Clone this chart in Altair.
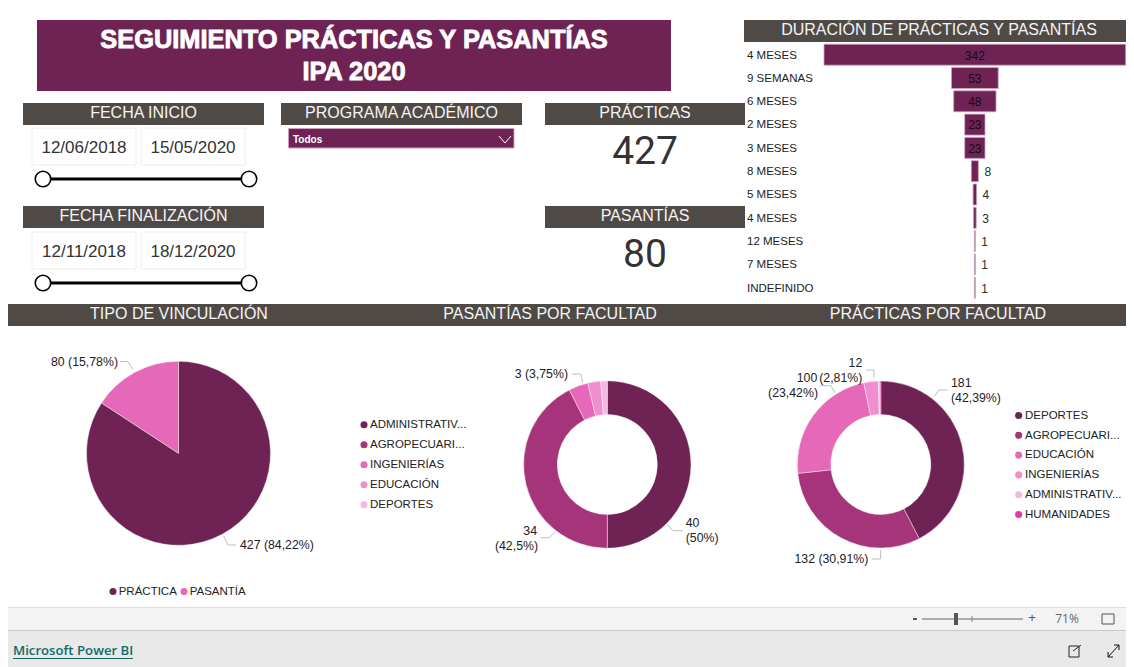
import altair as alt
import pandas as pd

# ---------- data ----------
dur_keys = ["a", "b", "c", "d", "e", "f", "g", "h", "i", "j", "k"]
dur_labels = ["4 MESES", "9 SEMANAS", "6 MESES", "2 MESES", "3 MESES", "8 MESES",
              "5 MESES", "4 MESES", "12 MESES", "7 MESES", "INDEFINIDO"]
dur_values = [342, 53, 48, 23, 23, 8, 4, 3, 1, 1, 1]

tipo_names = ["PRÁCTICA", "PASANTÍA"]
tipo_values = [427, 80]

pas_names = ["ADMINISTRATIV...", "AGROPECUARI...", "INGENIERÍAS", "EDUCACIÓN", "DEPORTES"]
pas_values = [40, 34, 3, 2, 1]

pra_names = ["DEPORTES", "AGROPECUARI...", "EDUCACIÓN", "INGENIERÍAS", "ADMINISTRATIV...", "HUMANIDADES"]
pra_values = [181, 132, 100, 12, 1, 1]

palette = ["#6F2354", "#A5347B", "#E668B8", "#F08FCF", "#F4B8E0", "#E63BA7"]
tipo_colors = ["#6F2354", "#E668B8"]

GRAY = "#504A47"
PURPLE = "#6F2354"
SANS = "Liberation Sans"
base = pd.DataFrame({"a": [0]})
layers = []


def X(v):
    return alt.value(v - 8)


def Y(v):
    return alt.value(v - 8)


def rect(x0, y0, x1, y1, fill, stroke=None, sw=1):
    kw = {"fill": fill}
    if stroke:
        kw.update(stroke=stroke, strokeWidth=sw)
    layers.append(alt.Chart(base).mark_rect(**kw).encode(x=X(x0), x2=X(x1), y=Y(y0), y2=Y(y1)))


def txt(s, x, y, size=12, color="#222222", align="center", font=SANS, weight="normal", stroke=None, sw=0):
    kw = dict(text=s, fontSize=size, color=color, align=align, baseline="middle", font=font, fontWeight=weight)
    if stroke:
        kw.update(stroke=stroke, strokeWidth=sw)
    layers.append(alt.Chart(base).mark_text(**kw).encode(x=X(x), y=Y(y)))


def seg(x0, y0, x1, y1, color="#BDBDBD", sw=1):
    layers.append(alt.Chart(base).mark_rule(color=color, strokeWidth=sw).encode(
        x=X(x0), x2=X(x1), y=Y(y0), y2=Y(y1)))


def leader(pts):
    for (a, b), (c, d) in zip(pts[:-1], pts[1:]):
        seg(a, b, c, d)


def dot(x, y, color, size=50, stroke=None, sw=0):
    kw = dict(filled=True, fill=color, opacity=1, size=size, shape="circle")
    if stroke:
        kw.update(stroke=stroke, strokeWidth=sw)
    layers.append(alt.Chart(base).mark_point(**kw).encode(x=X(x), y=Y(y)))


def pie(names, values, colors, cx, cy, R, r=0):
    df = pd.DataFrame({"name": names, "value": values, "idx": range(len(names))})
    kw = dict(outerRadius=R, stroke="#ffffff", strokeWidth=0.4)
    if r:
        kw["innerRadius"] = r
    layers.append(alt.Chart(df).mark_arc(**kw).encode(
        theta=alt.Theta("value:Q", stack=True),
        color=alt.Color("name:N", legend=None,
                        scale=alt.Scale(domain=names, range=colors)),
        order=alt.Order("idx:Q"),
        x=X(cx), y=Y(cy)))


# ---------- footer ----------
rect(0, 607, 1134, 630, "#F3F3F3")
seg(0, 607.5, 1134, 607.5, "#DDDDDD")
rect(0, 630, 1134, 667, "#E9E9E9")
seg(0, 630.5, 1134, 630.5, "#C8C8C8")
txt("Microsoft Power BI", 13, 651, 13.2, "#0F6B6B", "left", "Open Sans", 600)
seg(13, 658.5, 133, 658.5, "#0F6B6B")
rect(913, 618, 917, 620, "#555555")
seg(922, 619, 1023, 619, "#666666")
seg(972, 616, 972, 622, "#888888")
rect(954, 613, 958, 625, "#555555")
txt("+", 1032, 618, 13, "#555555")
txt("71%", 1067, 619, 12, "#666666", font="Open Sans")
rect(1102, 614, 1114, 624, "#F3F3F3", "#555555", 1)
rect(1069, 646, 1079, 657, "#E9E9E9", "#222222", 1)
seg(1073, 651, 1081, 645, "#222222")
seg(1108, 657, 1119, 645, "#111111")
seg(1108, 652, 1108, 657, "#111111")
seg(1108, 657, 1113, 657, "#111111")
seg(1114, 645, 1119, 645, "#111111")
seg(1119, 645, 1119, 650, "#111111")

# ---------- headers ----------
rect(37, 20, 671, 91, PURPLE)
txt("SEGUIMIENTO PRÁCTICAS Y PASANTÍAS", 354, 40.3, 25.4, "#FFFFFF", weight="bold", stroke="#FFFFFF", sw=0.9)
txt("IPA 2020", 354, 72.3, 25.4, "#FFFFFF", weight="bold", stroke="#FFFFFF", sw=0.9)

for x0, x1, y0, s in [
    (23, 264, 103, "FECHA INICIO"),
    (281, 522, 103, "PROGRAMA ACADÉMICO"),
    (545, 745, 103, "PRÁCTICAS"),
    (23, 264, 206, "FECHA FINALIZACIÓN"),
    (545, 745, 206, "PASANTÍAS"),
    (744, 1132, 20, "DURACIÓN DE PRÁCTICAS Y PASANTÍAS"),
]:
    rect(x0, y0, x1, y0 + 22, GRAY)
    cx = 645 if x1 == 745 else 939 if x1 == 1132 else (x0 + x1) / 2
    txt(s, cx, y0 + 10, 16, "#F4F4F4")

rect(1, 304, 1132, 326, GRAY)
txt("TIPO DE VINCULACIÓN", 179, 313.5, 16, "#F4F4F4")
txt("PASANTÍAS POR FACULTAD", 550, 313.5, 16, "#F4F4F4")
txt("PRÁCTICAS POR FACULTAD", 938, 313.5, 16, "#F4F4F4")

# ---------- date slicers ----------
for y0, d0, d1 in [(128, "12/06/2018", "15/05/2020"), (232, "12/11/2018", "18/12/2020")]:
    rect(32, y0, 136, y0 + 37, "#FFFFFF", "#EEEEEE")
    rect(141, y0, 245, y0 + 37, "#FFFFFF", "#EEEEEE")
    txt(d0, 84, y0 + 19.8, 17, "#333333")
    txt(d1, 193, y0 + 19.8, 17, "#333333")
    seg(43, y0 + 51, 249, y0 + 51, "#000000", 3)
    dot(43, y0 + 51, "#FFFFFF", 240, "#000000", 1.6)
    dot(249, y0 + 51, "#FFFFFF", 240, "#000000", 1.6)

# ---------- dropdown ----------
rect(288.5, 128.5, 514, 148, PURPLE, "#C9A3BC", 1)
txt("Todos", 293, 139.8, 10, "#FFFFFF", "left", weight="bold")
seg(499, 136, 505, 143, "#FFFFFF")
seg(505, 143, 511, 136, "#FFFFFF")

# ---------- KPIs ----------
txt("427", 645, 152, 39, "#333333", font="Roboto")
txt("80", 645, 255, 39, "#333333", font="Roboto")

# ---------- funnel ----------
dur = pd.DataFrame({"key": dur_keys, "label": dur_labels, "value": dur_values})
xs = alt.Scale(domain=[-171, 171], range=[824 - 8, 1125.7 - 8])
ys = alt.Scale(domain=dur_keys, range=[43.05 - 8, 299.35 - 8], paddingInner=0.1, paddingOuter=0.05)
funnel = alt.Chart(dur).transform_calculate(lo="-datum.value/2", hi="datum.value/2")
layers.append(funnel.mark_bar(color=PURPLE, stroke="#C9A3BC", strokeWidth=0.8).encode(
    x=alt.X("lo:Q", scale=xs, axis=None), x2="hi:Q",
    y=alt.Y("key:N", scale=ys, axis=None)))
layers.append(funnel.mark_text(align="left", baseline="middle", fontSize=11.5, font=SANS, color="#222222", dy=0.8).encode(
    x=X(747), y=alt.Y("key:N", scale=ys, axis=None), text="label:N"))
layers.append(funnel.transform_filter("datum.value >= 20").mark_text(
    align="center", baseline="middle", fontSize=12, font=SANS, color="#140A18", dy=0.8).encode(
    x=alt.X("a:Q", scale=xs, axis=None), y=alt.Y("key:N", scale=ys, axis=None), text="value:Q"
).transform_calculate(a="0"))
layers.append(funnel.transform_filter("datum.value < 20").mark_text(
    align="left", baseline="middle", fontSize=12, font=SANS, color="#2A2A2A", dx=6, dy=0.8).encode(
    x=alt.X("hi:Q", scale=xs, axis=None), y=alt.Y("key:N", scale=ys, axis=None), text="value:Q"))

# ---------- pies ----------
pie(tipo_names, tipo_values, tipo_colors, 178.5, 453.3, 92)
pie(pas_names, pas_values, palette[:5], 607.3, 464.5, 83.7, 50)
pie(pra_names, pra_values, palette[:6], 880.8, 464.5, 83.5, 50)

LBL = 12.3
txt("80 (15,78%)", 118, 361.7, LBL, align="right")
leader([(120, 361.5), (128, 361.5), (133, 369.5)])
txt("427 (84,22%)", 240, 545, LBL, align="left")
leader([(223.7, 536), (228, 545), (236, 545)])

txt("3 (3,75%)", 568, 374, LBL, align="right")
leader([(571.7, 374), (580.7, 374), (582.7, 382.7)])
txt("40", 685.7, 523, LBL, align="left")
txt("(50%)", 685.7, 537.5, LBL, align="left")
leader([(668, 525), (673, 530.7), (683, 530.7)])
txt("34", 537, 530.7, LBL, align="right")
txt("(42,5%)", 538, 545.7, LBL, align="right")
leader([(540.7, 537.7), (549.3, 537.7), (555, 531.7)])

txt("181", 951, 382.7, LBL, align="left")
txt("(42,39%)", 951, 397.7, LBL, align="left")
leader([(934, 396.7), (939, 390), (947.3, 390)])
txt("12", 862.3, 363.3, LBL, align="right")
txt("(2,81%)", 862.3, 377.7, LBL, align="right")
leader([(866, 370), (874, 370), (874, 378)])
txt("100", 817.3, 377.7, LBL, align="right")
txt("(23,42%)", 818, 393.3, LBL, align="right")
leader([(820, 385.7), (830.7, 385.7), (835, 392.7)])
txt("132 (30,91%)", 868.3, 559, LBL, align="right")
leader([(871.7, 559), (880.7, 559), (880.7, 550)])

# ---------- legends ----------
LEG = 11.5
dot(113, 591.5, tipo_colors[0])
txt(tipo_names[0], 118.7, 591.5, LEG, align="left")
dot(184, 591.5, tipo_colors[1])
txt(tipo_names[1], 189.7, 591.5, LEG, align="left")
for i, n in enumerate(pas_names):
    dot(364, 424.8 + 20 * i, palette[i])
    txt(n, 370, 425 + 20 * i, LEG, align="left")
for i, n in enumerate(pra_names):
    dot(1018.7, 415.5 + 19.8 * i, palette[i])
    txt(n, 1025, 415.8 + 19.8 * i, LEG, align="left")

chart = alt.layer(*layers, data=base).resolve_scale(
    x="independent", y="independent", theta="independent", color="independent"
).properties(
    width=1118, height=659, padding=0,
    autosize=alt.AutoSizeParams(type="none", contains="content"),
    background="#FFFFFF",
).configure_view(stroke=None)

chart.save("out.html", embed_options={"renderer": "svg", "actions": False})
